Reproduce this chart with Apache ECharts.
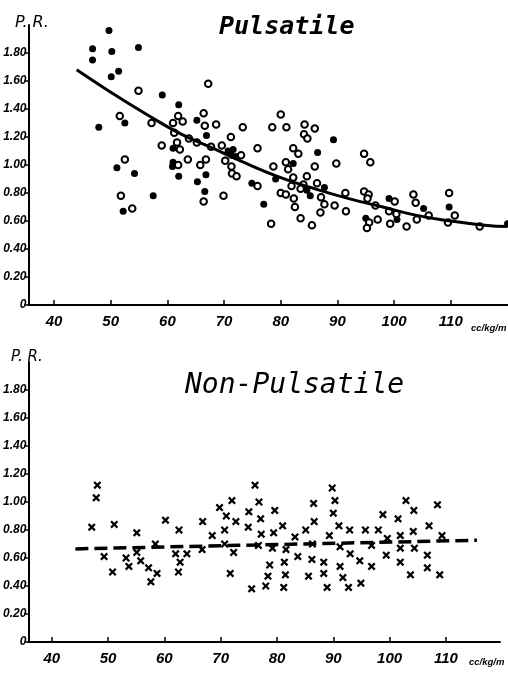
<!DOCTYPE html>
<html><head><meta charset="utf-8">
<script src="https://cdn.jsdelivr.net/npm/echarts@6/dist/echarts.min.js"></script>
<style>html,body{margin:0;padding:0;background:#fff}#c{width:508px;height:676px}</style>
</head><body><div id="c"></div>
<script>
const xTicks = [40, 50, 60, 70, 80, 90, 100, 110];
const yTicks = [0, 0.2, 0.4, 0.6, 0.8, 1.0, 1.2, 1.4, 1.6, 1.8];
const titleTop = 'Pulsatile';
const titleBottom = 'Non-Pulsatile';
const yName = 'P. R.';
const xUnit = 'cc/kg/m';

const pulsatileFilled = [[49.7,1.96],[46.8,1.83],[50.2,1.81],[46.8,1.75],[54.9,1.84],[51.4,1.67],[50.1,1.63],[59.1,1.50],[62.0,1.43],[47.9,1.27],[52.5,1.30],[65.2,1.32],[66.9,1.21],[61.0,1.12],[70.7,1.10],[71.6,1.11],[71.3,1.07],[72.2,1.06],[51.1,0.98],[54.2,0.94],[61.0,1.02],[60.9,0.99],[62.0,0.92],[66.8,0.93],[65.3,0.88],[66.6,0.81],[74.9,0.87],[79.1,0.90],[57.5,0.78],[52.2,0.67],[77.0,0.72],[89.3,1.18],[86.5,1.09],[82.2,1.01],[84.6,0.82],[85.2,0.78],[87.7,0.84],[99.1,0.76],[105.2,0.69],[109.7,0.70],[120.0,0.58],[95.0,0.62],[100.5,0.61]];

const pulsatileOpen = [[67.2,1.58],[54.9,1.53],[51.6,1.35],[57.2,1.30],[61.9,1.35],[61.0,1.30],[62.7,1.31],[66.4,1.37],[66.6,1.28],[68.6,1.29],[73.3,1.27],[78.5,1.27],[61.2,1.23],[63.8,1.19],[65.2,1.16],[59.0,1.14],[61.7,1.16],[62.2,1.11],[67.7,1.13],[69.6,1.14],[71.2,1.20],[75.9,1.12],[73.0,1.07],[52.5,1.04],[61.9,1.00],[63.6,1.04],[65.8,1.00],[66.8,1.04],[66.4,0.74],[69.9,0.78],[70.2,1.03],[71.3,0.99],[71.4,0.94],[72.2,0.92],[75.9,0.85],[78.7,0.99],[51.8,0.78],[53.8,0.69],[78.3,0.58],[80.0,1.36],[81.0,1.27],[84.2,1.29],[86.0,1.26],[84.1,1.22],[84.7,1.19],[82.2,1.12],[83.1,1.08],[94.7,1.08],[95.8,1.02],[89.8,1.01],[80.9,1.02],[81.3,0.97],[86.0,0.99],[84.6,0.92],[82.2,0.91],[86.4,0.87],[84.0,0.86],[81.9,0.85],[83.5,0.83],[80.0,0.80],[80.9,0.79],[87.1,0.77],[91.4,0.80],[94.7,0.81],[95.5,0.79],[95.3,0.76],[82.3,0.76],[87.7,0.72],[82.5,0.70],[89.5,0.71],[87.0,0.66],[91.5,0.67],[83.5,0.62],[85.5,0.57],[100.1,0.74],[103.4,0.79],[103.8,0.73],[109.7,0.80],[110.7,0.64],[106.1,0.64],[109.5,0.59],[115.1,0.56],[95.6,0.59],[95.2,0.55],[97.1,0.61],[99.3,0.58],[100.4,0.65],[102.2,0.56],[104.0,0.61],[99.1,0.67],[96.7,0.71]];

const pulsatileCurve = [[44,1.68],[50,1.52],[56,1.37],[62,1.23],[68,1.12],[74,1.01],[80,0.91],[86,0.83],[92,0.76],[98,0.70],[104,0.64],[110,0.60],[116,0.57],[120,0.56]];

const nonPulsatile = [[48.1,1.12],[47.9,1.03],[47.1,0.82],[51.1,0.84],[55.1,0.78],[49.3,0.61],[50.8,0.50],[53.2,0.60],[53.7,0.54],[55.1,0.64],[55.8,0.58],[57.2,0.53],[58.7,0.49],[57.6,0.43],[58.4,0.70],[60.2,0.87],[62.6,0.80],[62.0,0.63],[62.8,0.57],[62.5,0.50],[64.0,0.63],[66.8,0.86],[66.7,0.66],[68.5,0.76],[69.8,0.96],[72.0,1.01],[71.0,0.90],[72.7,0.86],[70.7,0.80],[70.7,0.70],[72.3,0.64],[71.7,0.49],[76.1,1.12],[76.8,1.00],[75.0,0.93],[77.1,0.88],[74.9,0.82],[77.2,0.77],[76.7,0.69],[75.5,0.38],[78.0,0.40],[78.4,0.47],[78.7,0.55],[79.6,0.94],[79.4,0.78],[81.0,0.83],[79.2,0.67],[81.6,0.66],[83.2,0.75],[83.7,0.61],[81.3,0.57],[81.5,0.48],[81.2,0.39],[85.1,0.80],[86.6,0.86],[86.5,0.99],[86.3,0.70],[86.2,0.59],[85.6,0.47],[88.3,0.57],[88.3,0.49],[88.9,0.39],[89.8,1.10],[90.3,1.01],[90.0,0.92],[91.0,0.83],[89.3,0.76],[91.2,0.68],[91.2,0.54],[91.7,0.46],[92.7,0.39],[92.9,0.80],[93.0,0.63],[94.7,0.58],[94.9,0.42],[95.7,0.80],[96.8,0.69],[96.8,0.54],[98.0,0.80],[98.8,0.91],[99.6,0.74],[99.4,0.62],[101.5,0.88],[102.9,1.01],[104.3,0.94],[101.9,0.76],[101.9,0.67],[104.2,0.79],[104.4,0.67],[101.9,0.57],[103.7,0.48],[108.5,0.98],[107.0,0.83],[109.3,0.76],[106.7,0.62],[106.7,0.53],[108.9,0.48]];

const nonPulsatileLine = [[44.2,0.665],[115.5,0.727]];

const chart = echarts.init(document.getElementById('c'));
const ink = '#000';
const numFont = 'Liberation Sans';
const crossPath = 'path://M0,2 L2,0 L5,3 L8,0 L10,2 L7,5 L10,8 L8,10 L5,7 L2,10 L0,8 L3,5 Z';

function xAxisCfg(idx, min, max) {
  return {
    type: 'value', gridIndex: idx, min: min, max: max,
    axisLine: {show: true, onZero: false, lineStyle: {color: ink, width: 2}},
    axisTick: {show: true, inside: true, length: 5, customValues: xTicks, lineStyle: {color: ink, width: 1.5}},
    axisLabel: {customValues: xTicks, color: ink, fontFamily: numFont, fontStyle: 'italic', fontWeight: 'bold', fontSize: 15, margin: 9},
    splitLine: {show: false}
  };
}
function yAxisCfg(idx) {
  return {
    type: 'value', gridIndex: idx, min: 0, max: 2.0,
    axisLine: {show: true, onZero: false, lineStyle: {color: ink, width: 2}},
    axisTick: {show: true, length: 4, customValues: yTicks, lineStyle: {color: ink, width: 1.5}},
    axisLabel: {customValues: yTicks, color: ink, fontFamily: numFont, fontStyle: 'italic', fontWeight: 'bold', fontSize: 12, margin: 2,
      formatter: v => v === 0 ? '0' : v.toFixed(2)},
    splitLine: {show: false}
  };
}

chart.setOption({
  animation: false,
  backgroundColor: '#fff',
  title: [
    {text: titleTop, left: 214, top: 10, textStyle: {fontFamily: 'DejaVu Sans Mono', fontStyle: 'italic', fontWeight: 'bold', fontSize: 25, color: ink}},
    {text: titleBottom, left: 180, top: 367, textStyle: {fontFamily: 'DejaVu Sans Mono', fontStyle: 'italic', fontWeight: 'normal', fontSize: 28, color: ink}},
    {text: yName, left: 10, top: 10, textStyle: {fontFamily: 'DejaVu Sans', fontStyle: 'italic', fontWeight: 'normal', fontSize: 16, color: ink}},
    {text: yName, left: 6, top: 345, textStyle: {fontFamily: 'DejaVu Sans', fontStyle: 'italic', fontWeight: 'normal', fontSize: 15, color: ink}},
    {text: xUnit, left: 466, top: 318, textStyle: {fontFamily: numFont, fontStyle: 'italic', fontWeight: 'bold', fontSize: 9.5, color: ink}},
    {text: xUnit, left: 464, top: 652, textStyle: {fontFamily: numFont, fontStyle: 'italic', fontWeight: 'bold', fontSize: 9.5, color: ink}}
  ],
  grid: [
    {left: 28.5, top: 25, width: 479, height: 280},
    {left: 22, top: 362, width: 478, height: 280}
  ],
  xAxis: [xAxisCfg(0, 35.5, 120), xAxisCfg(1, 35.85, 119.6)],
  yAxis: [yAxisCfg(0), yAxisCfg(1)],
  series: [
    {type: 'scatter', xAxisIndex: 0, yAxisIndex: 0, data: pulsatileFilled, symbol: 'circle', symbolSize: 7,
      itemStyle: {color: ink, opacity: 1}},
    {type: 'scatter', xAxisIndex: 0, yAxisIndex: 0, data: pulsatileOpen, symbol: 'circle', symbolSize: 6.5,
      itemStyle: {color: '#fff', borderColor: ink, borderWidth: 2, opacity: 1}},
    {type: 'line', xAxisIndex: 0, yAxisIndex: 0, data: pulsatileCurve, smooth: true, showSymbol: false,
      lineStyle: {color: ink, width: 3}, z: 3},
    {type: 'scatter', xAxisIndex: 1, yAxisIndex: 1, data: nonPulsatile, symbol: crossPath, symbolSize: 8,
      itemStyle: {color: ink, opacity: 1}},
    {type: 'line', xAxisIndex: 1, yAxisIndex: 1, data: nonPulsatileLine, showSymbol: false,
      lineStyle: {color: ink, width: 3.5, type: [13, 6]}, z: 1}
  ]
});
</script></body></html>
